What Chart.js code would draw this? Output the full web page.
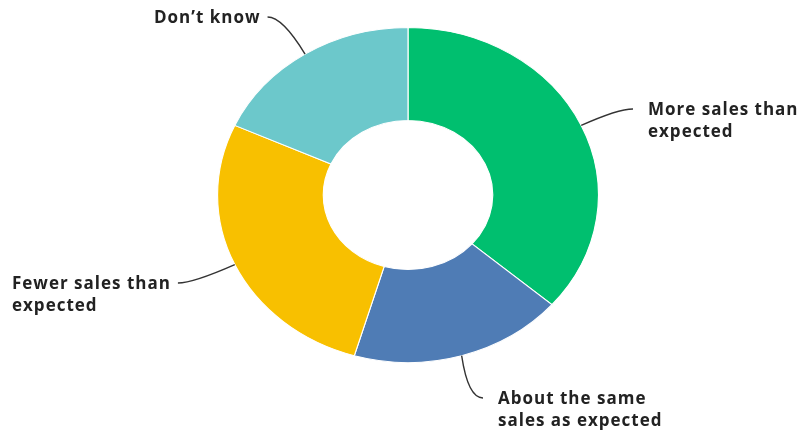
<!DOCTYPE html>
<html>
<head>
<meta charset="utf-8">
<script src="https://cdn.jsdelivr.net/npm/chart.js@4.4.1/dist/chart.umd.min.js"></script>
<style>
html,body{margin:0;padding:0;background:#fff;}
#contenedor{width:803px;height:432px;}
</style>
</head>
<body>
<div id="contenedor"><canvas id="grafica"></canvas></div>
<script>
// datos
const categorias = ['More sales than expected', 'About the same sales as expected', 'Fewer sales than expected', 'Don’t know'];
const valores = [36, 18, 27, 18];
const colores = ['#00BF6F', '#4F7CB5', '#F8C000', '#6CC8CB'];
// texto de las etiquetas ya partido en líneas
const lineasEtiquetas = [
    ['More sales than', 'expected'],
    ['About the same', 'sales as expected'],
    ['Fewer sales than', 'expected'],
    ['Don’t know']
];

// posición de cada etiqueta (x izquierda, línea base de la 1a línea) y lado donde llega la línea guía
const posEtiquetas = [
    {x: 648, y: 115, guia: 'izq'},
    {x: 498, y: 404, guia: 'izq'},
    {x: 12,  y: 289, guia: 'der'},
    {x: 154, y: 23,  guia: 'der'}
];

const estiramientoX = 191 / 168;  // la dona es una elipse
const fuente = 'bold 17px "Open Sans", sans-serif';
const interlineado = 22;

// estira la dona en horizontal y dibuja etiquetas con sus líneas guía
const pluginElipse = {
    id: 'elipse',
    beforeDatasetsDraw(chart){
        const arco = chart.getDatasetMeta(0).data[0];
        const ctx = chart.ctx;
        ctx.save();
        ctx.translate(arco.x, arco.y);
        ctx.scale(estiramientoX, 1);
        ctx.translate(-arco.x, -arco.y);
    },
    afterDatasetsDraw(chart){
        chart.ctx.restore();
    },
    afterDraw(chart){
        const ctx = chart.ctx;
        const meta = chart.getDatasetMeta(0);
        ctx.save();
        ctx.font = fuente;
        ctx.letterSpacing = '1px';
        ctx.fillStyle = '#222';
        ctx.strokeStyle = '#333';
        ctx.lineWidth = 1.4;
        meta.data.forEach((arco, i) => {
            const p = posEtiquetas[i];
            const medio = (arco.startAngle + arco.endAngle) / 2;
            const x0 = arco.x + Math.cos(medio) * arco.outerRadius * estiramientoX;
            const y0 = arco.y + Math.sin(medio) * arco.outerRadius;
            let xf, dir;
            if (p.guia === 'izq'){
                xf = p.x - 15; dir = -1;
            } else {
                xf = p.x + ctx.measureText(lineasEtiquetas[i][0]).width + 7; dir = 1;
            }
            const yf = p.y - 6;
            ctx.beginPath();
            ctx.moveTo(x0, y0);
            ctx.quadraticCurveTo(xf + dir * 15, yf, xf, yf);
            ctx.stroke();

            ctx.textAlign = 'left';
            ctx.textBaseline = 'alphabetic';
            lineasEtiquetas[i].forEach((linea, j) => {
                ctx.fillText(linea, p.x, p.y + j * interlineado);
            });
        });
        ctx.restore();
    }
};

const ctx = document.getElementById('grafica').getContext('2d');
const grafica = new Chart(ctx, {
    type: 'doughnut',
    data: {
        labels: categorias,
        datasets: [{
            data: valores,
            backgroundColor: colores,
            borderColor: '#fff',
            borderWidth: 1,
            clip: false
        }]
    },
    options: {
        responsive: true,
        maintainAspectRatio: false,
        animation: false,
        cutout: '44.5%',
        layout: {padding: {top: 27, bottom: 69, left: 13, right: 0}},
        events: [],
        plugins: {
            legend: {display: false},
            tooltip: {enabled: false}
        }
    },
    plugins: [pluginElipse]
});
</script>
</body>
</html>
